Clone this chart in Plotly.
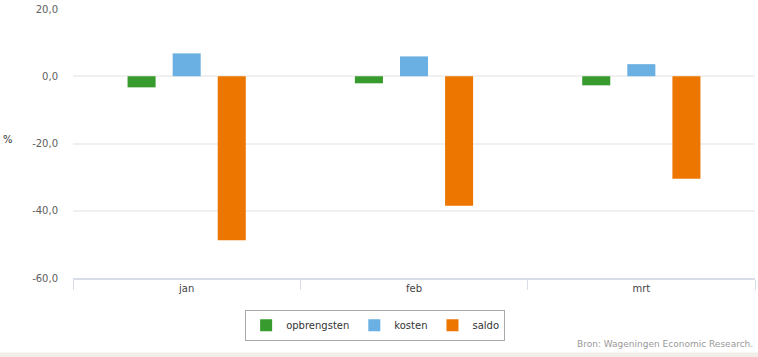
import plotly.graph_objects as go

categories = ["jan", "feb", "mrt"]
opbrengsten = [-3.3, -2.1, -2.7]
kosten = [6.8, 5.9, 3.6]
saldo = [-48.8, -38.5, -30.5]
y_ticks = [-60, -40, -20, 0, 20]
y_tick_labels = ["-60,0", "-40,0", "-20,0", "0,0", "20,0"]

FONT = "DejaVu Sans, Verdana, sans-serif"

fig = go.Figure()
fig.add_trace(go.Bar(name="opbrengsten", x=categories, y=opbrengsten, marker=dict(color="#379b2d", line=dict(width=0))))
fig.add_trace(go.Bar(name="kosten", x=categories, y=kosten, marker=dict(color="#6ab0e2", line=dict(width=0))))
fig.add_trace(go.Bar(name="saldo", x=categories, y=saldo, marker=dict(color="#ed7601", line=dict(width=0))))

fig.update_layout(
    width=758, height=357,
    margin=dict(l=73, r=3, t=7, b=79),
    paper_bgcolor="white", plot_bgcolor="white",
    barmode="group", bargap=0.405, bargroupgap=0.378,
    separators=",.",
    font=dict(family=FONT, size=10, color="#555555"),
    showlegend=True,
    legend=dict(orientation="h", x=0.443, xanchor="center", y=-0.118, yanchor="top",
                bordercolor="#aaaaaa", borderwidth=1, bgcolor="white",
                font=dict(family=FONT, size=10, color="#333333"),
                itemwidth=30, tracegroupgap=0),
    xaxis=dict(showgrid=False, showline=True, linecolor="#d8dde8", linewidth=2,
               ticks="outside", tickson="boundaries", ticklen=10, tickcolor="#d8dde8", tickwidth=1,
               tickfont=dict(family=FONT, size=10, color="#444444"), zeroline=False),
    yaxis=dict(range=[-60, 20], tickvals=y_ticks, ticktext=y_tick_labels,
               showgrid=True, gridcolor="#f0f0f0", gridwidth=2, zeroline=False,
               showline=False, ticks="", ticklabelstandoff=14,
               tickfont=dict(family=FONT, size=10, color="#606060")),
)

fig.add_annotation(text="%", xref="paper", yref="paper", x=-0.0953, y=0.5166,
                   xanchor="center", yanchor="middle", showarrow=False,
                   font=dict(family=FONT, size=10, color="#333333"))
fig.add_annotation(text="Bron: Wageningen Economic Research.", xref="paper", yref="paper",
                   x=1, y=-0.247, xanchor="right", yanchor="middle", showarrow=False,
                   font=dict(family=FONT, size=9, color="#999999"))
fig.add_shape(type="rect", xref="paper", yref="paper", x0=-0.2, x1=1.1, y0=-0.3, y1=-0.2768,
              fillcolor="#f0eee6", line=dict(width=0), layer="below")

fig.write_html("out.html", config={"displayModeBar": False},
               post_script="document.body.style.margin='0';document.body.style.padding='0';")
